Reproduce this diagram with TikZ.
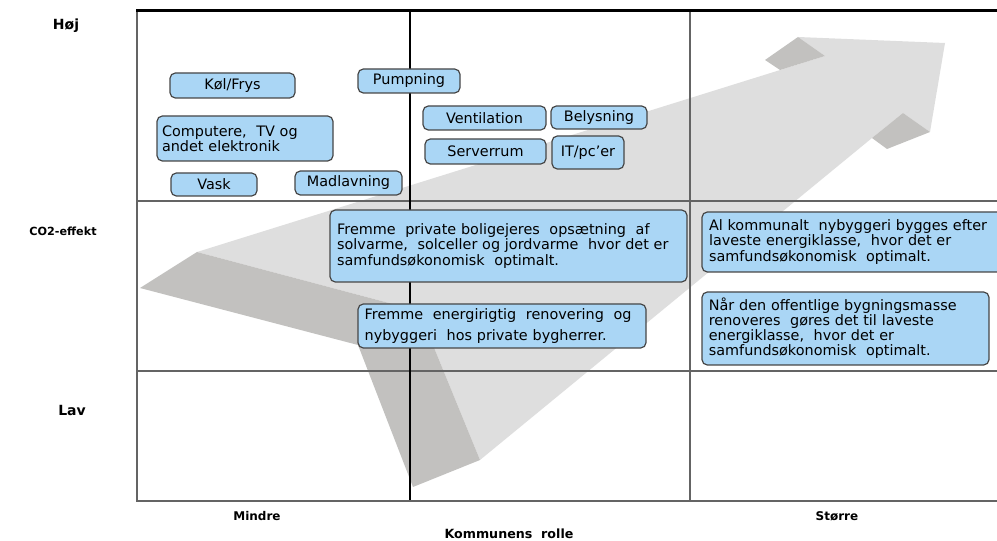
\documentclass[tikz,border=0pt]{standalone}
\usepackage{fontspec}
\setmainfont{DejaVu Sans}
\usepackage{tikz}
\usetikzlibrary{positioning}

\definecolor{boxfill}{RGB}{170,214,245}
\definecolor{boxline}{RGB}{70,70,70}
\definecolor{arrowlight}{RGB}{222,222,222}
\definecolor{arrowdark}{RGB}{194,193,191}
\definecolor{framegray}{RGB}{100,100,100}

\begin{document}
\begin{tikzpicture}[x=0.75pt, y=-0.75pt,
    box/.style={draw=boxline, fill=boxfill, line width=0.9pt, rounded corners=4pt,
                inner sep=0pt, font=\fontsize{10.8}{11.3}\selectfont},
    multibox/.style={box, align=left, text width=#1},
    axislabel/.style={font=\bfseries\fontsize{9}{11}\selectfont},
    gridline/.style={draw=framegray, line width=1.1pt}]
  \useasboundingbox (0,0) rectangle (997,541);

  % arrow in the background
  \fill[arrowlight] (197,252) -- (825,56) -- (798,37) -- (945,43) -- (930,132)
        -- (903,113) -- (872,138) -- (480,460) -- (419,311) -- cycle;
  \fill[arrowdark] (197,252) -- (419,311) -- (480,460) -- (413,487)
        -- (358,345) -- (140,288) -- cycle;
  \fill[arrowdark] (765,60) -- (798,37) -- (825,56) -- (780,70) -- cycle;
  \fill[arrowdark] (872,138) -- (903,113) -- (930,132) -- (887,149) -- cycle;

  % grid
  \draw[gridline] (138,201) -- (1000,201);
  \draw[gridline] (138,371) -- (1000,371);
  \draw[black, line width=0.8pt] (410,12) -- (410,501);
  \draw[gridline] (690,12) -- (690,501);
  \draw[framegray, line width=1.6pt] (137,11) -- (137,501) -- (1000,501);
  \draw[black, line width=2.4pt] (136,10.5) -- (1000,10.5);

  % boxes
  \node[box, minimum width=93.75pt, minimum height=18.75pt] (kol) at (232.5,85.5) {Køl/Frys};
  \node[box, minimum width=76.5pt, minimum height=18pt] (pump) at (409,81) {Pumpning};
  \node[multibox=124.5pt, minimum width=132pt, minimum height=33.75pt] (comp) at (245,138.5)
        {Computere,\ \ TV og\\andet elektronik};
  \node[box, minimum width=64.5pt, minimum height=17.25pt] (vask) at (214,184.5) {Vask};
  \node[box, minimum width=80.25pt, minimum height=18pt] (mad) at (348.5,183) {Madlavning};
  \node[box, minimum width=92.25pt, minimum height=18pt] (vent) at (484.5,118) {Ventilation};
  \node[box, minimum width=72pt, minimum height=17.25pt] (bely) at (599,117.5) {Belysning};
  \node[box, minimum width=90.75pt, minimum height=18.75pt] (serv) at (485.5,151.5) {Serverrum};
  \node[box, minimum width=54pt, minimum height=24.75pt] (itpc) at (588,152.5) {IT/pc’er};

  \node[multibox=257pt, minimum width=267.75pt, minimum height=54pt] (privat) at (508.5,246)
        {Fremme\ \ private boligejeres\ \ opsætning\ \ af\\
         solvarme,\ \ solceller og jordvarme\ \ hvor det er\\
         samfundsøkonomisk\ \ optimalt.};
  \node[multibox=206pt, minimum width=216pt, minimum height=33pt] (renov) at (502,326)
        {Fremme\ \ energirigtig\ \ renovering\ \ og\\[5pt]
         nybyggeri\ \ hos private bygherrer.};
  \node[multibox=216pt, minimum width=226.5pt, minimum height=45pt] (kommunal) at (853,242)
        {Al kommunalt\ \ nybyggeri bygges efter\\
         laveste energiklasse,\ \ hvor det er\\
         samfundsøkonomisk\ \ optimalt.};
  \node[multibox=205pt, minimum width=215.25pt, minimum height=54.75pt] (offentlig) at (845.5,328.5)
        {Når den offentlige bygningsmasse\\
         renoveres\ \ gøres det til laveste\\
         energiklasse,\ \ hvor det er\\
         samfundsøkonomisk\ \ optimalt.};

  % axis labels
  \node[axislabel, font=\bfseries\fontsize{10.5}{12}\selectfont] (hoej) at (66,26) {Høj};
  \node[axislabel, font=\bfseries\fontsize{8.4}{10}\selectfont] (co2) at (63,231) {CO2-effekt};
  \node[axislabel, font=\bfseries\fontsize{10.5}{12}\selectfont] (lav) at (72,410) {Lav};
  \node[axislabel] (mindre) at (257,516) {Mindre};
  \node[axislabel] (stoerre) at (837,516) {Større};
  \node[axislabel, font=\bfseries\fontsize{9.5}{11}\selectfont] (rolle) at (509,534) {Kommunens\ \ rolle};
\end{tikzpicture}
\end{document}
